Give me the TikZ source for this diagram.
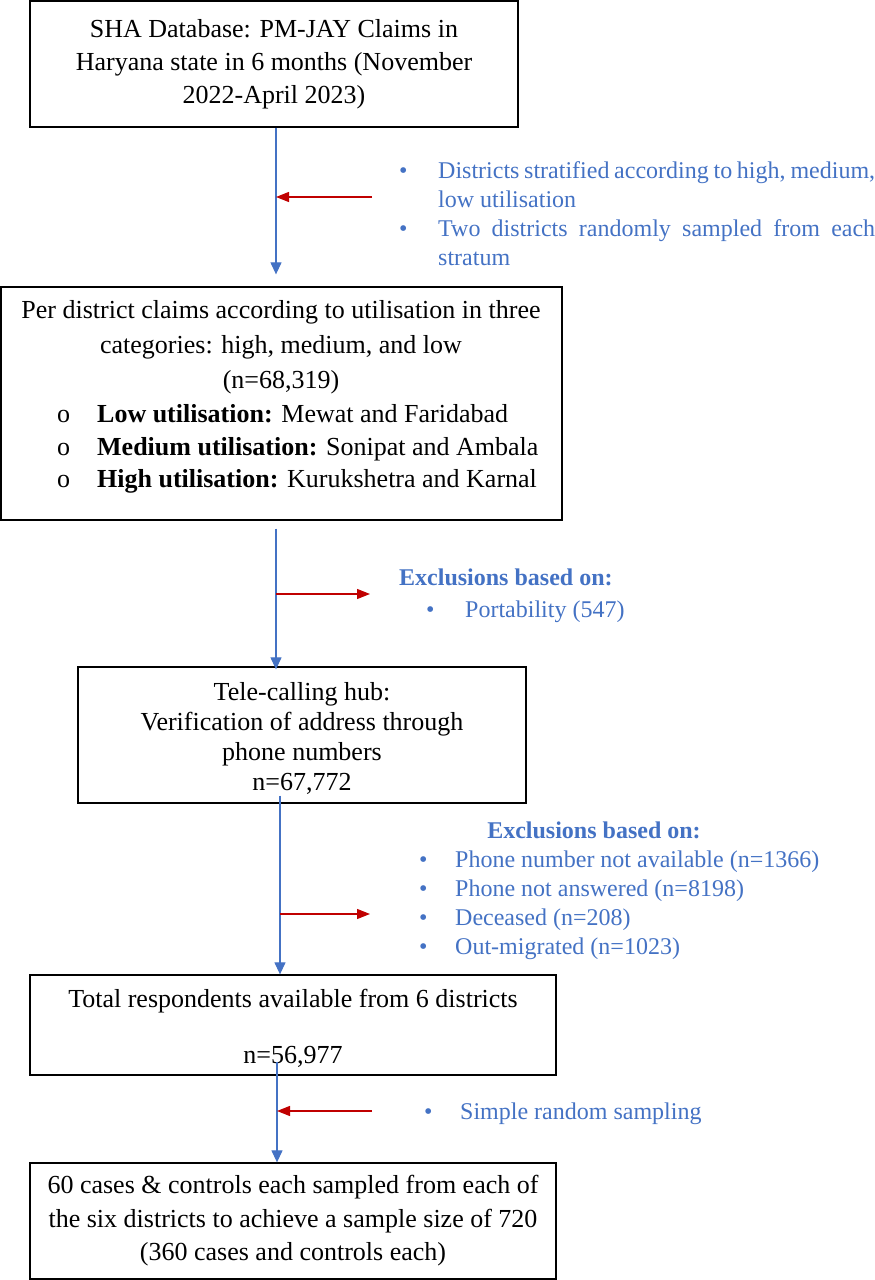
\documentclass[tikz,border=0pt]{standalone}
\usepackage{fontspec}
\setmainfont{Liberation Serif}
\usetikzlibrary{arrows.meta,calc}
\definecolor{flowblue}{RGB}{68,114,196}
\definecolor{flowred}{RGB}{192,0,0}

\begin{document}
\begin{tikzpicture}[x=1pt, y=-1pt,
  block/.style={rectangle, draw, line width=1.3pt, inner sep=0pt, align=center},
  txt/.style={inner sep=0pt, align=center},
  note/.style={inner sep=0pt, text=flowblue, font=\fontsize{24}{29}\selectfont},
  flow/.style={draw=flowblue, line width=1.2pt, -{Triangle[length=12pt, width=11pt]}},
  excl/.style={draw=flowred, line width=1.2pt, -{Triangle[length=13pt, width=10pt]}}]
  \fontsize{26}{33}\selectfont
  \useasboundingbox (0,0) rectangle (875,1280);

  \node[block, minimum width=488pt, minimum height=126pt] (sha) at (274,64)
    {SHA Database: PM-JAY Claims in\\ Haryana state in 6 months (November\\ 2022-April 2023)};
  \node[block, minimum width=561pt, minimum height=233pt] (claims) at (281.5,403.5) {};
  \node[txt, font=\fontsize{26}{35}\selectfont] (claimstxt) at (281,347)
    {Per district claims according to utilisation in three\\ categories: high, medium, and low\\ (n=68,319)};
  \node[txt, anchor=west, align=left, font=\fontsize{26}{32.5}\selectfont] (strata) at (57,449)
    {\makebox[40pt][l]{o}\textbf{Low utilisation:} Mewat and Faridabad\\
     \makebox[40pt][l]{o}\textbf{Medium utilisation:} Sonipat and Ambala\\
     \makebox[40pt][l]{o}\textbf{High utilisation:} Kurukshetra and Karnal};
  \node[block, minimum width=448pt, minimum height=136pt, font=\fontsize{26}{30}\selectfont] (hub) at (302,735)
    {\\[-6pt]Tele-calling hub:\\ Verification of address through\\ phone numbers\\ n=67,772};
  \node[block, minimum width=526pt, minimum height=100pt] (total) at (293,1025)
    {\\[-8pt]Total respondents available from 6 districts\\[23pt] n=56,977};
  \node[block, minimum width=526pt, minimum height=116pt, font=\fontsize{26}{33.5}\selectfont] (sample) at (293,1221)
    {60 cases \& controls each sampled from each of\\ the six districts to achieve a sample size of 720\\ (360 cases and controls each)};

  \node[note, anchor=north west] (strat) at (399,158)
    {\begin{tabular}{@{}p{39pt}@{}p{437pt}@{}}
      \textbullet & Districts stratified according to high, medium, low utilisation\\
      \textbullet & Two districts randomly sampled from each stratum
     \end{tabular}};
  \node[note, anchor=north west] (excl1) at (399,565)
    {\begin{tabular}{@{}l@{}}
      \textbf{Exclusions based on:}\\[3pt]
      \hspace*{27pt}\makebox[39pt][l]{\textbullet}Portability (547)
     \end{tabular}};
  \node[note] (excl2head) at (594,830) {\textbf{Exclusions based on:}};
  \node[note, anchor=north west] (excl2) at (419,847)
    {\begin{tabular}{@{}p{36pt}@{}l@{}}
      \textbullet & Phone number not available (n=1366)\\
      \textbullet & Phone not answered (n=8198)\\
      \textbullet & Deceased (n=208)\\
      \textbullet & Out-migrated (n=1023)
     \end{tabular}};
  \node[note, anchor=west] (srs) at (424,1114)
    {\makebox[36pt][l]{\textbullet}Simple random sampling};

  \coordinate (a1) at (276,0);
  \coordinate (a3) at (280,0);
  \coordinate (a4) at (277,0);
  \draw[flow] (sha.south -| a1) -- ($(claims.north -| a1)+(0,-12)$);
  \draw[flow] ($(claims.south -| a1)+(0,8)$) -- ($(hub.north -| a1)+(0,3)$);
  \draw[flow] ($(hub.south -| a3)+(0,-8)$) -- (total.north -| a3);
  \draw[flow] ($(total.south -| a4)+(0,-14)$) -- (sample.north -| a4);

  \coordinate (r1) at (372,197);
  \coordinate (r2) at (370,594);
  \coordinate (r3) at (370,914);
  \coordinate (r4) at (372,1111);
  \draw[excl] (r1) -- (r1 -| a1);
  \draw[excl] (r2 -| a1) -- (r2);
  \draw[excl] (r3 -| a3) -- (r3);
  \draw[excl] (r4) -- (r4 -| a4);

\end{tikzpicture}
\end{document}
